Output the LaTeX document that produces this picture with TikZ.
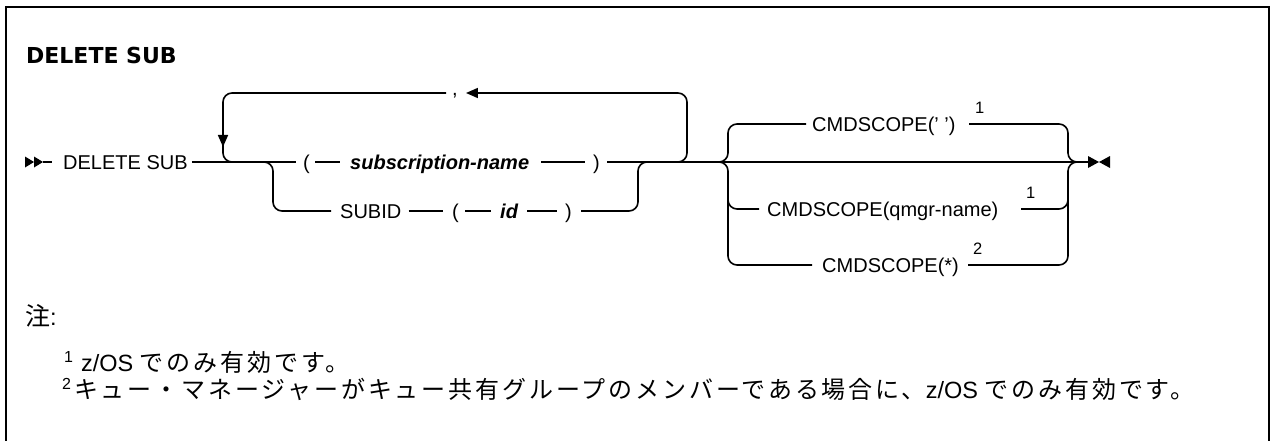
\documentclass[tikz,border=0pt]{standalone}
\usepackage{fontspec}
\setmainfont{Liberation Sans}
\newfontfamily\cjk{Noto Sans CJK JP}[LetterSpace=12]
\newfontfamily\cjkn{Noto Sans CJK JP}
\newfontfamily\titlefont{DejaVu Sans}
\usetikzlibrary{arrows.meta}
\newcommand{\supnum}[1]{\raisebox{9pt}{\fontsize{16}{16}\selectfont #1}}
\newcommand{\jp}[1]{{\cjk\fontsize{24}{28}\selectfont #1}}
\begin{document}
\begin{tikzpicture}[x=1pt,y=-1pt,
  ln/.style={line width=1.6pt},
  rr/.style={line width=1.6pt, rounded corners=9pt},
  kw/.style={font=\fontsize{20}{24}\selectfont, inner sep=0pt, text height=14.3pt, text depth=0pt, anchor=west},
  var/.style={kw, font=\fontsize{20}{24}\selectfont\bfseries\itshape},
  sup/.style={font=\fontsize{16.5}{17}\selectfont, inner sep=0pt, text height=11.8pt, text depth=0pt, anchor=west},
  tip/.style={-{Triangle[length=12pt,width=10pt]}},
  notetext/.style={font=\fontsize{23.5}{28}\selectfont, inner sep=0pt, anchor=base west}
]
\useasboundingbox (0,0) rectangle (1274,441);
% frame
\draw[line width=2pt] (6,445) -- (6,7) -- (1269,7) -- (1269,445);
% title
\node[inner sep=0pt, text height=16pt, text depth=0pt, anchor=west, font=\titlefont\bfseries\fontsize{22}{26}\selectfont] (title) at (26,55.5) {DELETE SUB};
% start
\coordinate (st) at (43,162);
\fill (25,156.5) -- (34,162) -- (25,167.5) -- cycle;
\fill (34,156.5) -- (43,162) -- (34,167.5) -- cycle;
\node[kw] (ds) at (63,162) {DELETE SUB};
\draw[ln] (st) -- ([xshift=-11pt]ds.west);
% row 1
\node[kw] (lp) at (303,162) {(};
\node[var] (sn) at (350,162) {subscription-name};
\node[kw] (rp) at (593,162) {)};
\draw[ln] ([xshift=4pt]ds.east) -- ([xshift=-7pt]lp.west);
\draw[ln] ([xshift=5pt]lp.east) -- ([xshift=-10pt]sn.west);
\draw[ln] ([xshift=12pt]sn.east) -- ([xshift=-8pt]rp.west);
% row 2
\node[kw] (subid) at (340,211) {SUBID};
\node[kw] (lp2) at (452,211) {(};
\node[var] (id) at (500,211) {id};
\node[kw] (rp2) at (565,211) {)};
\coordinate (b1) at (250,162);
\coordinate (b2) at (665,162);
\draw[rr] (b1) -| (273,211) -- ([xshift=-9pt]subid.west);
\draw[ln] ([xshift=7pt]subid.east) -- ([xshift=-9pt]lp2.west);
\draw[ln] ([xshift=6pt]lp2.east) -- ([xshift=-9pt]id.west);
\draw[ln] ([xshift=9pt]id.east) -- ([xshift=-8pt]rp2.west);
\draw[rr] ([xshift=9pt]rp2.east) -| (638,162) -- (b2);
% repeat loop
\node[kw] (comma) at (452,88) {,};
\draw[rr,tip] (b2) -| (687,93) -- ([xshift=8pt]comma.east |- 0,93);
\draw[rr,tip] ([xshift=-6pt]comma.west |- 0,93) -| (223,147);
\draw[rr] (223,140) |- (b1);
% main line to end
\coordinate (en) at (1088,162);
\draw[ln] ([xshift=7pt]rp.east) -- (en);
\fill (1088,156) -- (1099,162) -- (1088,168) -- cycle;
\fill (1110,156) -- (1099,162) -- (1110,168) -- cycle;
% CMDSCOPE group
\coordinate (jl) at (710,162);
\node[kw] (c1) at (812,124) {CMDSCOPE(' ')};
\node[sup] (s1) at (975,107.5) {1};
\node[kw] (c2) at (767,209) {CMDSCOPE(qmgr-name)};
\node[sup] (s2) at (1026,193) {1};
\node[kw] (c3) at (822,265) {CMDSCOPE(*)};
\node[sup] (s3) at (973,249) {2};
\draw[rr] (jl) -| (728,124) -- ([xshift=-6pt]c1.west);
\draw[rr] ([xshift=-6pt]s1.west |- c1.east) -| (1068,162) -- (en);
\draw[rr] (728,175) |- ([xshift=-8pt]c2.west);
\draw[rr] ([xshift=-5pt]s2.west |- c2.east) -| (1068,180);
\draw[rr] (jl) -| (728,265) -- ([xshift=-10pt]c3.west);
\draw[rr] ([xshift=-5pt]s3.west |- c3.east) -| (1068,162) -- (en);
% notes
\node[notetext, anchor=base west] (nt) at (25,325) {{\cjkn\fontsize{25}{28}\selectfont 注}:};
\node[notetext] (n1) at (64,371) {\supnum{1}\hspace{8pt}z/OS \jp{でのみ有効です。}};
\node[notetext] (n2) at (62,398) {\supnum{2}\hspace{3pt}\jp{キュー・マネージャーがキュー共有グループのメンバーである場合に、}z/OS \jp{でのみ有効です。}};
\end{tikzpicture}
\end{document}
